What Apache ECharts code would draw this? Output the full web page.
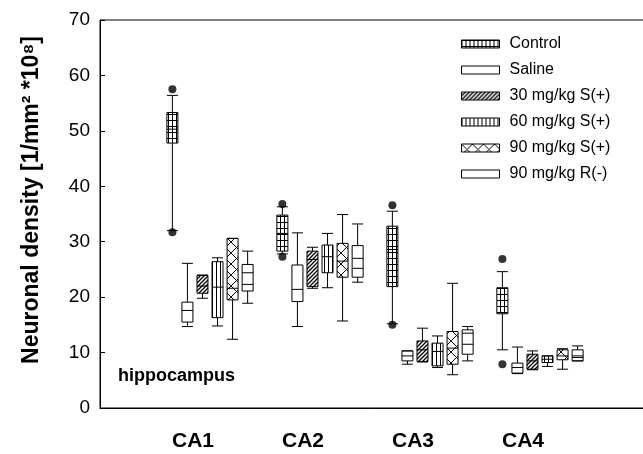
<!DOCTYPE html>
<html>
<head>
<meta charset="utf-8">
<script src="https://cdn.jsdelivr.net/npm/echarts@6/dist/echarts.min.js"></script>
<style>
html, body { margin: 0; padding: 0; background: #fff; }
#chart { width: 643px; height: 454px; }
</style>
</head>
<body>
<div id="chart"></div>
<script>
// empty slots at both ends so the axis starts at the y axis
var regions = ['', 'CA1', 'CA2', 'CA3', 'CA4', ''];
var groups = ['Control', 'Saline', '30 mg/kg S(+)', '60 mg/kg S(+)', '90 mg/kg S(+)', '90 mg/kg R(-)'];

// [min, Q1, median, Q3, max] for CA1..CA4
var control = [[32.0, 47.8, 50.3, 53.3, 56.4], [27.8, 28.3, 31.5, 34.8, 36.3], [15.2, 21.9, 28.6, 32.8, 35.5], [10.5, 17.0, 19.4, 21.7, 24.6]];
var saline  = [[14.7, 15.5, 17.6, 19.1, 26.1], [14.7, 19.2, 21.4, 25.8, 31.6], [7.9, 8.5, 9.4, 10.3, 10.3], [6.2, 6.3, 7.3, 8.1, 11.0]];
var s30     = [[19.8, 20.7, 22.0, 23.9, 24.0], [21.6, 21.9, 26.8, 28.3, 29.0], [8.3, 8.4, 10.5, 12.1, 14.4], [6.9, 7.0, 8.5, 9.7, 10.3]];
var s60     = [[14.8, 16.3, 21.8, 26.4, 27.1], [21.7, 24.4, 27.3, 29.4, 31.5], [7.3, 7.6, 10.2, 11.7, 13.0], [7.5, 8.2, 8.8, 9.4, 9.4]];
var s90     = [[12.4, 19.5, 21.6, 30.6, 30.6], [15.7, 23.6, 26.5, 29.7, 34.9], [6.0, 7.9, 10.8, 13.8, 22.5], [7.0, 8.7, 9.4, 10.5, 10.7]];
var r90     = [[18.9, 21.1, 24.4, 25.9, 28.3], [22.7, 23.6, 27.0, 29.3, 33.2], [8.5, 9.7, 13.5, 14.1, 14.7], [8.5, 8.5, 9.4, 10.5, 11.2]];
// second line drawn inside the 90 mg/kg R(-) boxes (mean)
var r90Mean = [22.3, 25.2, 11.5, 9.1];

// control outliers, [upper, lower] for CA1..CA4
var controlOutliers = [[57.5, 31.7], [36.8, 27.3], [36.6, 15.0], [26.9, 7.9]];

var boxes = [control, saline, s30, s60, s90, r90];

function pattern(w, h, draw) {
  var c = document.createElement('canvas');
  c.width = w; c.height = h;
  var g = c.getContext('2d');
  g.fillStyle = '#fff';
  g.fillRect(0, 0, w, h);
  g.strokeStyle = '#000';
  g.lineWidth = 1;
  g.beginPath();
  draw(g, w, h);
  g.stroke();
  return { image: c, repeat: 'repeat' };
}

var fills = [
  pattern(4, 6, function (g) { g.moveTo(0.5, 0); g.lineTo(0.5, 6); g.moveTo(0, 0.5); g.lineTo(4, 0.5); }),
  '#fff',
  pattern(4, 4, function (g) { g.lineWidth = 1.3; g.moveTo(0, 4); g.lineTo(4, 0); g.moveTo(-1, 1); g.lineTo(1, -1); g.moveTo(3, 5); g.lineTo(5, 3); }),
  pattern(4, 4, function (g) { g.moveTo(0.5, 0); g.lineTo(0.5, 4); }),
  pattern(11, 11, function (g) { g.moveTo(0, 0); g.lineTo(11, 11); g.moveTo(11, 0); g.lineTo(0, 11); }),
  '#fff'
];

var font = 'Liberation Sans, Arial, sans-serif';

var series = [];
var legendData = [];
for (var k = 0; k < groups.length; k++) {
  var d = [];
  for (var i = 0; i < boxes[k].length; i++) {
    d.push([i + 1].concat(boxes[k][i]));
  }
  series.push({
    name: groups[k],
    type: 'boxplot',
    data: d,
    encode: { x: 0, y: [1, 2, 3, 4, 5] },
    boxWidth: [11, 11],
    itemStyle: { color: fills[k], borderColor: '#000', borderWidth: 1 },
    emphasis: { disabled: true },
    silent: true
  });
  legendData.push({
    name: groups[k],
    itemStyle: { color: fills[k], borderColor: '#000', borderWidth: 1 }
  });
}

var outl = [];
for (var i = 0; i < controlOutliers.length; i++) {
  outl.push([i + 1, controlOutliers[i][0]]);
  outl.push([i + 1, controlOutliers[i][1]]);
}
series.push({
  type: 'scatter',
  data: outl,
  symbol: 'circle',
  symbolSize: 8,
  symbolOffset: [-37.6, 0],
  itemStyle: { color: '#000' },
  silent: true,
  z: 5
});

var meanData = [];
for (var i = 0; i < r90Mean.length; i++) meanData.push([i + 1, r90Mean[i]]);
series.push({
  type: 'custom',
  data: meanData,
  silent: true,
  z: 5,
  renderItem: function (params, api) {
    var p = api.coord([api.value(0), api.value(1)]);
    var x = p[0] + 37.6;
    return {
      type: 'line',
      shape: { x1: x - 5.5, y1: p[1], x2: x + 5.5, y2: p[1] },
      style: { stroke: '#000', lineWidth: 1 }
    };
  }
});

var myChart = echarts.init(document.getElementById('chart'));

var option = {
  animation: false,
  grid: {
    left: 100, right: -7, top: 20, bottom: 46,
    show: true, borderColor: '#000', borderWidth: 1,
    outerBoundsMode: 'none'
  },
  legend: {
    data: legendData,
    orient: 'vertical',
    left: 456,
    top: 31,
    icon: 'rect',
    itemWidth: 38,
    itemHeight: 8,
    itemGap: 10,
    selectedMode: false,
    textStyle: { fontSize: 16, color: '#000', fontFamily: font, padding: [0, 0, 0, 5] }
  },
  xAxis: {
    type: 'category',
    data: regions,
    boundaryGap: false,
    axisLine: { lineStyle: { color: '#000', width: 1 } },
    axisTick: { show: false },
    splitLine: { show: false },
    axisLabel: {
      interval: 0,
      margin: 23,
      formatter: function (v) { return v ? '{a|' + v + '}' : ''; },
      rich: {
        a: { fontSize: 21, fontWeight: 'bold', fontFamily: font, color: '#000', padding: [0, 34, 0, 0] }
      }
    }
  },
  yAxis: {
    type: 'value',
    min: 0,
    max: 70,
    interval: 10,
    name: 'Neuronal density [1/mm² *10⁸]',
    nameLocation: 'middle',
    nameGap: 57,
    nameTextStyle: { fontSize: 23, fontWeight: 'bold', color: '#000', fontFamily: font, padding: [0, 0, 0, 28] },
    axisLine: { show: true, lineStyle: { color: '#000', width: 1 } },
    axisTick: { show: true, inside: true, length: 5, lineStyle: { color: '#000' } },
    splitLine: { show: false },
    axisLabel: { fontSize: 19, color: '#000', fontFamily: font, margin: 10 }
  },
  graphic: [{
    type: 'text',
    left: 118,
    top: 367,
    style: { text: 'hippocampus', font: 'bold 18px ' + font, fill: '#000' }
  }],
  series: series
};

myChart.setOption(option);
</script>
</body>
</html>
